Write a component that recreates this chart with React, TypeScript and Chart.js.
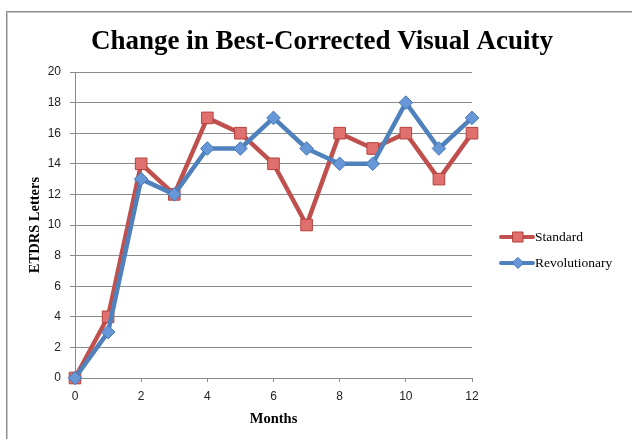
import React, { useEffect, useRef } from "react";
import { Chart, registerables } from "chart.js";

Chart.register(...registerables);

const months = [0, 1, 2, 3, 4, 5, 6, 7, 8, 9, 10, 11, 12];
const standardValues = [0, 4, 14, 12, 17, 16, 14, 10, 16, 15, 16, 13, 16];
const revolutionaryValues = [0, 3, 13, 12, 15, 15, 17, 15, 14, 14, 18, 15, 17];
const seriesNames = ["Standard", "Revolutionary"];
const chartTitle = "Change in Best-Corrected Visual Acuity";
const xAxisTitle = "Months";
const yAxisTitle = "ETDRS Letters";

const RED = "#C0504D";
const RED_FILL = "#E0706D";
const RED_EDGE = "#B5403D";
const BLUE = "#4F81BD";
const BLUE_FILL = "#6797D6";
const BLUE_EDGE = "#4677B6";
const GRID = "#8A8A8A";
const SERIF = "'Liberation Serif', 'Times New Roman', serif";
const SANS = "'Liberation Sans', Arial, sans-serif";

export default function App() {
  const ref = useRef<HTMLCanvasElement>(null);

  useEffect(() => {
    if (!ref.current) return;
    const legendPlugin = {
      id: "sideLegend",
      afterDraw(chart: any) {
        const { ctx, chartArea } = chart;
        const x0 = chartArea.right + 29;
        const rows = [237, 263];
        chart.data.datasets.forEach((ds: any, i: number) => {
          const y = rows[i];
          ctx.save();
          ctx.strokeStyle = ds.borderColor;
          ctx.lineWidth = 4;
          ctx.lineCap = "round";
          ctx.beginPath();
          ctx.moveTo(x0, y);
          ctx.lineTo(x0 + 32, y);
          ctx.stroke();
          const cx = x0 + 17;
          ctx.fillStyle = ds.pointBackgroundColor;
          ctx.strokeStyle = ds.pointBorderColor;
          ctx.lineWidth = 1;
          ctx.beginPath();
          if (ds.pointStyle === "rect") {
            ctx.rect(cx - 5, y - 5, 10, 10);
          } else {
            ctx.moveTo(cx, y - 5.5);
            ctx.lineTo(cx + 5.5, y);
            ctx.lineTo(cx, y + 5.5);
            ctx.lineTo(cx - 5.5, y);
            ctx.closePath();
          }
          ctx.fill();
          ctx.stroke();
          ctx.fillStyle = "#000";
          ctx.font = `13.5px ${SERIF}`;
          ctx.textBaseline = "middle";
          ctx.textAlign = "left";
          ctx.fillText(ds.label, x0 + 34, y + 0.5);
          ctx.restore();
        });
      },
    };

    const chart = new Chart(ref.current, {
      type: "line",
      data: {
        datasets: [
          {
            label: seriesNames[0],
            data: months.map((m, i) => ({ x: m, y: standardValues[i] })),
            borderColor: RED,
            backgroundColor: RED_FILL,
            pointBackgroundColor: RED_FILL,
            pointBorderColor: RED_EDGE,
            pointBorderWidth: 1,
            pointStyle: "rect",
            pointRadius: 8.2,
            borderWidth: 4.5,
            borderJoinStyle: "round",
            tension: 0,
            clip: false,
            order: 1,
          },
          {
            label: seriesNames[1],
            data: months.map((m, i) => ({ x: m, y: revolutionaryValues[i] })),
            borderColor: BLUE,
            backgroundColor: BLUE_FILL,
            pointBackgroundColor: BLUE_FILL,
            pointBorderColor: BLUE_EDGE,
            pointBorderWidth: 1,
            pointStyle: "rectRot",
            pointRadius: 6.8,
            borderWidth: 4.5,
            borderJoinStyle: "round",
            tension: 0,
            clip: false,
            order: 0,
          },
        ],
      } as any,
      options: {
        responsive: false,
        animation: false,
        events: [],
        layout: { padding: { left: 12, right: 0, top: 0, bottom: 0 } },
        plugins: {
          legend: { display: false },
          tooltip: { enabled: false },
          title: {
            display: true,
            text: chartTitle,
            color: "#000",
            font: { family: SERIF, size: 27, weight: "bold", lineHeight: 1.2 },
            padding: { top: 26, bottom: 13.6 },
          },
        },
        scales: {
          x: {
            type: "linear",
            min: 0,
            max: 12,
            ticks: {
              stepSize: 2,
              padding: 7,
              color: "#222",
              font: { family: SANS, size: 12 },
            },
            grid: { drawOnChartArea: false, tickLength: 4, color: GRID },
            border: { color: GRID },
            title: {
              display: true,
              text: xAxisTitle,
              color: "#000",
              font: { family: SERIF, size: 14.5, weight: "bold", lineHeight: 1.2 },
              padding: { top: 0, bottom: 11 },
            },
            afterFit: (s: any) => {
              s.height = 61;
            },
          },
          y: {
            type: "linear",
            min: 0,
            max: 20,
            ticks: {
              stepSize: 2,
              padding: 9,
              color: "#222",
              font: { family: SANS, size: 12 },
            },
            grid: { color: GRID, tickLength: 5 },
            border: { color: GRID },
            title: {
              display: true,
              text: yAxisTitle,
              color: "#000",
              font: { family: SERIF, size: 14.5, weight: "bold", lineHeight: 1.2 },
              padding: { top: 15, bottom: 0 },
            },
            afterFit: (s: any) => {
              s.width = 63;
            },
          },
          yRight: {
            type: "linear",
            axis: "y",
            position: "right",
            min: 0,
            max: 1,
            ticks: { display: false },
            grid: { display: false },
            border: { display: false },
            afterFit: (s: any) => {
              s.width = 160;
            },
          },
        },
      } as any,
      plugins: [legendPlugin],
    });
    return () => chart.destroy();
  }, []);

  return (
    <div style={{ position: "absolute", left: 0, top: 0, width: 632, height: 439, background: "#fff", overflow: "hidden" }}>
      <div
        style={{
          position: "absolute",
          left: 6,
          top: 11,
          width: 700,
          height: 500,
          borderLeft: "1px solid #8c8c8c",
          borderTop: "1px solid #8c8c8c",
          boxShadow: "inset 1px 1px 0 #c8c8c8",
        }}
      />
      <canvas ref={ref} width={632} height={439} style={{ position: "absolute", left: 0, top: 0, width: 632, height: 439 }} />
    </div>
  );
}
